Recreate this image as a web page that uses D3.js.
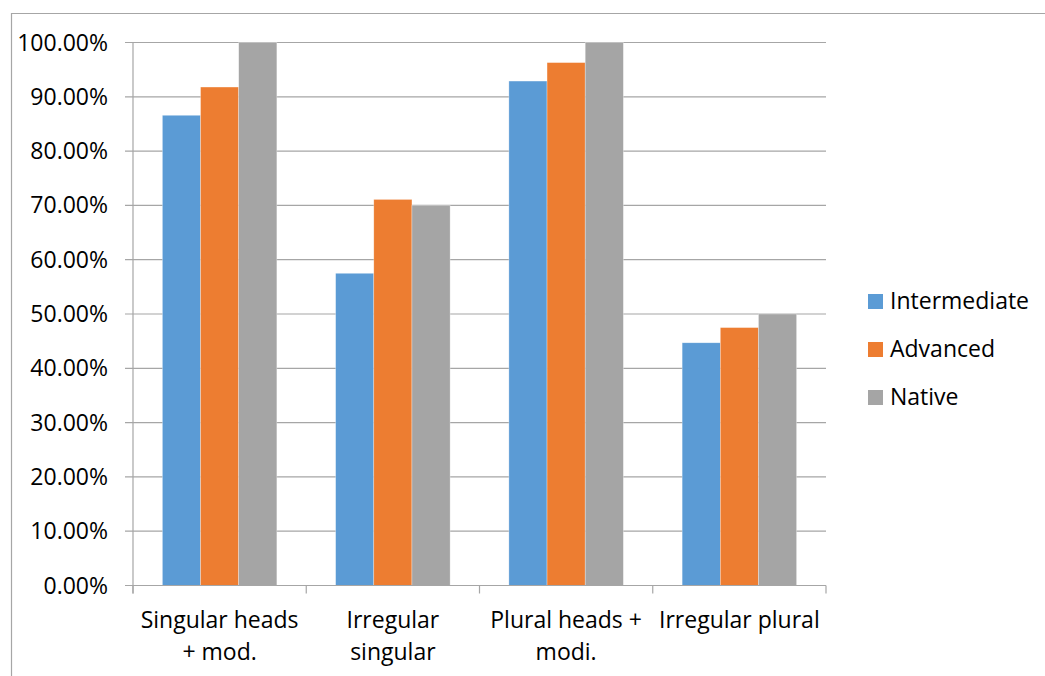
<!DOCTYPE html>
<html>
<head>
<meta charset="utf-8">
<script src="https://cdn.jsdelivr.net/npm/d3@7"></script>
<style>
  body { margin: 0; background: #fff; }
  text { font-family: "Open Sans", sans-serif; fill: #000; }
</style>
</head>
<body>
<div id="graph"></div>
<script>
let w = 1045;
let h = 676;

let categories = [["Singular heads", "+ mod."], ["Irregular", "singular"], ["Plural heads +", "modi."], ["Irregular plural"]];
let seriesNames = ["Intermediate", "Advanced", "Native"];
let intermediate = [0.866, 0.575, 0.929, 0.447];
let advanced = [0.918, 0.711, 0.963, 0.475];
let native = [1.0, 0.70, 1.0, 0.50];
let yTicks = [0, 0.1, 0.2, 0.3, 0.4, 0.5, 0.6, 0.7, 0.8, 0.9, 1.0];
let colors = ["#5B9BD5", "#ED7D31", "#A5A5A5"];

let allSeries = [intermediate, advanced, native];

let plotLeft = 133;
let plotRight = 826;
let plotTop = 42.5;
let plotBottom = 585.5;
let fontSize = "23px";

let viz = d3.select("#graph")
  .append("svg")
    .attr("width", w)
    .attr("height", h);

// outer frame (cut off on the right and bottom)
viz.append("path")
  .attr("d", "M11.5," + h + " V13.5 H" + w)
  .attr("fill", "none")
  .attr("stroke", "#A6A6A6")
  .attr("stroke-width", 1.2);

let xScale = d3.scaleBand().domain(d3.range(categories.length)).range([plotLeft, plotRight]).paddingInner(0).paddingOuter(0);
let yScale = d3.scaleLinear().domain([0, 1]).range([plotBottom, plotTop]);
let inner = d3.scaleBand().domain(d3.range(seriesNames.length)).range([0, xScale.bandwidth()]).paddingOuter(0.77).paddingInner(0);

// gridlines
viz.append("g").selectAll("line").data(yTicks).enter()
  .append("line")
    .attr("x1", plotLeft - 8)
    .attr("x2", plotRight)
    .attr("y1", d => yScale(d))
    .attr("y2", d => yScale(d))
    .attr("stroke", "#A6A6A6")
    .attr("stroke-width", 1.2);

// y labels
viz.append("g").selectAll("text").data(yTicks).enter()
  .append("text")
    .attr("x", 108)
    .attr("y", d => yScale(d))
    .attr("dy", "0.35em")
    .attr("text-anchor", "end")
    .style("font-size", fontSize)
    .text(d => d3.format(".2%")(d));

// bars
let groups = viz.append("g").selectAll("g").data(allSeries).enter()
  .append("g")
    .attr("fill", (d, i) => colors[i]);

groups.each(function(values, si){
  d3.select(this).selectAll("rect").data(values).enter()
    .append("rect")
      .attr("x", (d, ci) => xScale(ci) + inner(si))
      .attr("width", inner.bandwidth())
      .attr("y", d => yScale(d))
      .attr("height", d => plotBottom - yScale(d))
      .attr("stroke", "#fff")
      .attr("stroke-opacity", 0.5)
      .attr("stroke-width", 0.6);
});

// axes lines
viz.append("line")
  .attr("x1", plotLeft).attr("x2", plotLeft)
  .attr("y1", plotTop).attr("y2", plotBottom + 8)
  .attr("stroke", "#A6A6A6").attr("stroke-width", 1.2);

viz.append("line")
  .attr("x1", plotLeft - 8).attr("x2", plotRight)
  .attr("y1", plotBottom).attr("y2", plotBottom)
  .attr("stroke", "#A6A6A6").attr("stroke-width", 1.2);

let catTicks = d3.range(categories.length + 1).map(i => plotLeft + i * xScale.bandwidth());
viz.append("g").selectAll("line").data(catTicks).enter()
  .append("line")
    .attr("x1", d => d).attr("x2", d => d)
    .attr("y1", plotBottom).attr("y2", plotBottom + 8)
    .attr("stroke", "#A6A6A6").attr("stroke-width", 1.2);

// category labels
let catLabels = viz.append("g").selectAll("text").data(categories).enter()
  .append("text")
    .attr("x", (d, i) => xScale(i) + xScale.bandwidth() / 2)
    .attr("y", 620)
    .attr("text-anchor", "middle")
    .style("font-size", fontSize);

catLabels.selectAll("tspan").data(d => d).enter()
  .append("tspan")
    .attr("x", function(){ return d3.select(this.parentNode).attr("x"); })
    .attr("dy", (d, i) => i == 0 ? "0.35em" : "32px")
    .text(d => d);

// legend
let legend = viz.append("g").selectAll("g").data(seriesNames).enter()
  .append("g")
    .attr("transform", (d, i) => "translate(868," + (301 + i * 48) + ")");

legend.append("rect")
  .attr("x", 0).attr("y", -7)
  .attr("width", 15).attr("height", 15)
  .attr("fill", (d, i) => colors[i]);

legend.append("text")
  .attr("x", 22)
  .attr("dy", "0.35em")
  .style("font-size", fontSize)
  .text(d => d);
</script>
</body>
</html>
